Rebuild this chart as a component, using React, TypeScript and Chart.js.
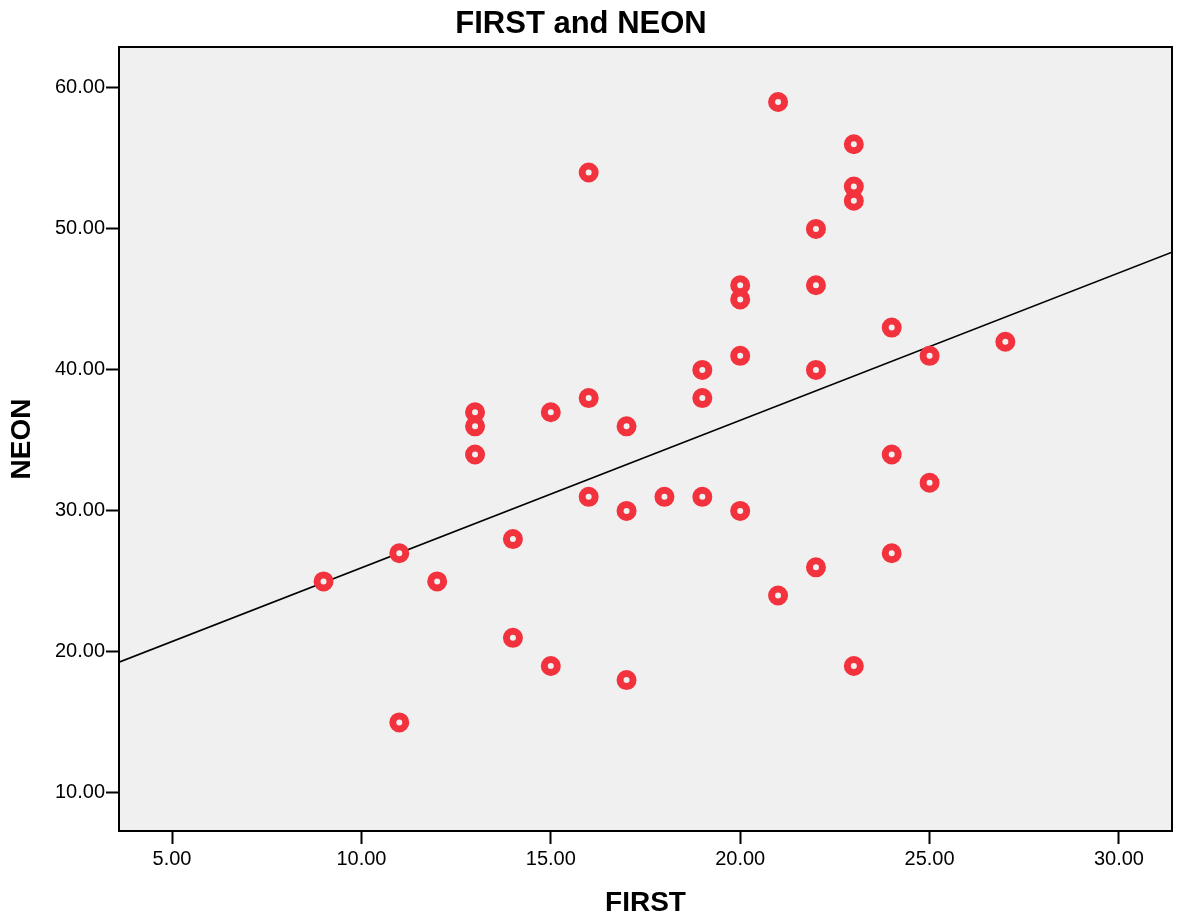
import React, { useEffect, useRef } from "react";
import { Chart, registerables } from "chart.js";

Chart.register(...registerables);

const chartTitle = "FIRST and NEON";
const firstValues = [9, 11, 11, 12, 13, 13, 13, 14, 14, 15, 15, 16, 16, 16, 17, 17, 17, 18, 19, 19, 19, 20, 20, 20, 20, 21, 21, 22, 22, 22, 22, 23, 23, 23, 23, 24, 24, 24, 25, 25, 27];
const neonValues = [25, 27, 15, 25, 37, 36, 34, 28, 21, 37, 19, 54, 38, 31, 36, 30, 18, 31, 40, 38, 31, 46, 45, 41, 30, 59, 24, 50, 46, 40, 26, 56, 53, 52, 19, 43, 34, 27, 41, 32, 42];
const fitLineX = [3.6, 31.4];
const fitLineY = [19.27, 48.35];
const xTicks = [5, 10, 15, 20, 25, 30];
const yTicks = [10, 20, 30, 40, 50, 60];

const FONT = "'Liberation Sans', Arial, Helvetica, sans-serif";

const framePlugin = {
  id: "frame",
  beforeDraw(chart: any) {
    const { ctx, chartArea } = chart;
    ctx.save();
    ctx.fillStyle = "#f0f0f0";
    ctx.fillRect(chartArea.left, chartArea.top, chartArea.right - chartArea.left, chartArea.bottom - chartArea.top);
    ctx.restore();
  },
  afterDraw(chart: any) {
    const { ctx, chartArea } = chart;
    ctx.save();
    ctx.strokeStyle = "#000";
    ctx.lineWidth = 2;
    ctx.strokeRect(chartArea.left, chartArea.top, chartArea.right - chartArea.left, chartArea.bottom - chartArea.top);
    ctx.fillStyle = "#000";
    ctx.font = `bold 31px ${FONT}`;
    ctx.textAlign = "center";
    ctx.textBaseline = "middle";
    ctx.fillText(chartTitle, 581, 24);
    ctx.restore();
  },
};

export default function App() {
  const ref = useRef<HTMLCanvasElement | null>(null);

  useEffect(() => {
    if (!ref.current) return;
    const points = firstValues.map((x, i) => ({ x, y: neonValues[i] }));
    const line = fitLineX.map((x, i) => ({ x, y: fitLineY[i] }));
    const chart = new Chart(ref.current, {
      type: "scatter",
      data: {
        datasets: [
          {
            type: "line",
            data: line,
            borderColor: "#000",
            borderWidth: 1.6,
            pointRadius: 0,
            fill: false,
            order: 2,
          } as any,
          {
            data: points,
            pointRadius: 6.5,
            pointBorderWidth: 7,
            pointBackgroundColor: "#f0f0f0",
            pointBorderColor: "#f2323d",
            order: 1,
          } as any,
        ],
      },
      options: {
        animation: false,
        responsive: false,
        maintainAspectRatio: false,
        layout: { autoPadding: false, padding: { left: 0, right: 8, top: 47, bottom: 0 } },
        plugins: {
          legend: { display: false },
          tooltip: { enabled: false },
          title: { display: false },
        },
        scales: {
          x: {
            type: "linear",
            min: 3.6,
            max: 31.4,
            afterFit(scale: any) {
              scale.height = 91;
              scale.paddingLeft = 0;
              scale.paddingRight = 0;
            },
            afterBuildTicks(scale: any) {
              scale.ticks = xTicks.map((v) => ({ value: v }));
            },
            border: { display: false },
            grid: {
              drawOnChartArea: false,
              drawTicks: true,
              tickLength: 13,
              tickWidth: 2,
              tickColor: "#000",
            },
            ticks: {
              color: "#000",
              padding: 3,
              maxRotation: 0,
              font: { family: FONT, size: 20 },
              callback: (v: any) => Number(v).toFixed(2),
            },
            title: {
              display: true,
              text: "FIRST",
              color: "#000",
              font: { family: FONT, size: 28, weight: "bold", lineHeight: 1.2 },
              padding: { top: 0, bottom: 2.2 },
            },
          },
          y: {
            type: "linear",
            min: 7.3,
            max: 62.9,
            afterFit(scale: any) {
              scale.width = 119;
              scale.paddingTop = 0;
              scale.paddingBottom = 0;
            },
            afterBuildTicks(scale: any) {
              scale.ticks = yTicks.map((v) => ({ value: v }));
            },
            border: { display: false },
            grid: {
              drawOnChartArea: false,
              drawTicks: true,
              tickLength: 13,
              tickWidth: 2,
              tickColor: "#000",
            },
            ticks: {
              color: "#000",
              padding: 1,
              font: { family: FONT, size: 20 },
              callback: (v: any) => Number(v).toFixed(2),
            },
            title: {
              display: true,
              text: "NEON",
              color: "#000",
              font: { family: FONT, size: 28, weight: "bold", lineHeight: 1.2 },
              padding: { top: 5.2, bottom: 0 },
            },
          },
        },
      },
      plugins: [framePlugin],
    });
    return () => chart.destroy();
  }, []);

  return (
    <div style={{ position: "fixed", left: 0, top: 0, width: 1180, height: 922, background: "#fff" }}>
      <canvas ref={ref} width={1180} height={922} style={{ width: 1180, height: 922, display: "block" }} />
    </div>
  );
}
